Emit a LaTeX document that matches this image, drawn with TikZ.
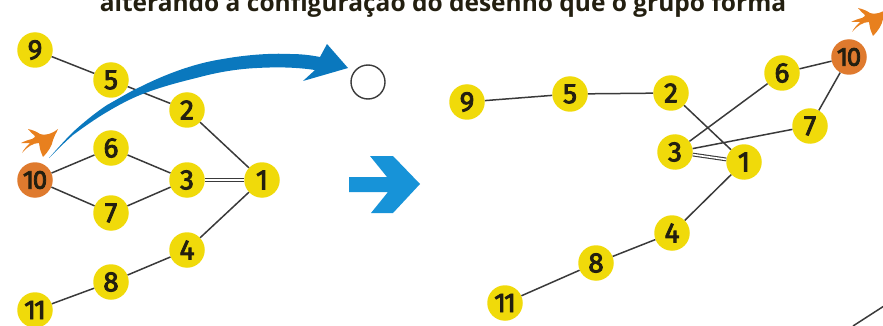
\documentclass[tikz,border=0pt]{standalone}
\usepackage{fontspec}
\setmainfont{Fira Sans}
\newfontfamily\titlefont{Open Sans}
\newfontfamily\numfont[FakeBold=3]{Fira Sans}
\newfontfamily\numtight[FakeBold=3,LetterSpace=-5]{Fira Sans}
\definecolor{ballyellow}{HTML}{F0DA0A}
\definecolor{ballorange}{HTML}{DF7A2E}
\definecolor{birdorange}{HTML}{E8801E}
\definecolor{arrowdark}{HTML}{0A78BE}
\definecolor{arrowlight}{HTML}{1793D8}
\definecolor{numink}{HTML}{231F10}
\definecolor{edgeink}{HTML}{3A3A3A}
\tikzset{
  ball/.style={circle,fill=ballyellow,minimum size=35.5pt,inner sep=0pt,text=numink,font=\numfont\fontsize{28}{28}\selectfont},
  balltight/.style={ball,font=\numtight\fontsize{27}{27}\selectfont},
  ballhot/.style={ball,fill=ballorange,font=\numtight\fontsize{26}{26}\selectfont},
  openball/.style={circle,draw=edgeink,line width=1.4pt,fill=white,minimum size=34pt,inner sep=0pt},
  edge/.style={draw=edgeink,line width=1.5pt},
  twin/.style={draw=edgeink,line width=1.1pt,double=white,double distance=1.6pt},
  titletext/.style={font=\titlefont\bfseries\fontsize{24.5}{26}\selectfont,text=numink,inner sep=0pt,anchor=base},
  bird/.pic={
    \fill[birdorange] (28,129) .. controls (33,130) and (37,132) .. (40,134)
      .. controls (44,136) and (52,134) .. (58,129)
      .. controls (56,134) and (54,136) .. (53,140)
      .. controls (52,146) and (48,152) .. (43,157)
      .. controls (41,153) and (40,150) .. (39,143)
      .. controls (33,143) and (27,147) .. (22,153)
      .. controls (24,149) and (27,146) .. (30,143)
      .. controls (27,143) and (24,143) .. (21,143)
      .. controls (25,141) and (28,140) .. (32,139)
      .. controls (34,138) and (35,137) .. (35,136)
      .. controls (33,134) and (30,132) .. (28,129) -- cycle;
  }
}
\begin{document}
\begin{tikzpicture}[x=1pt,y=-1pt]
\useasboundingbox (0,0) rectangle (883,326);
\clip (0,0) rectangle (883,326);
\node[titletext] (title) at (443,12) {alterando a configuração do desenho que o grupo forma};
\node[ball] (a9) at (35,50) {9};
\node[ball] (a5) at (111,80) {5};
\node[ball] (a2) at (187,110) {2};
\node[ball] (a6) at (111,148) {6};
\node[ball] (a3) at (187,180) {3};
\node[ball] (a1) at (262,180) {1};
\node[ballhot] (a10) at (35,180) {10};
\node[ball] (a7) at (111,213) {7};
\node[ball] (a4) at (187,250) {4};
\node[ball] (a8) at (111,282) {8};
\node[balltight] (a11) at (35,310) {11};
\node[openball] (hole) at (368,82) {};
\node[ball] (b9) at (467,102) {9};
\node[ball] (b5) at (570,94) {5};
\node[ball] (b2) at (671,93) {2};
\node[ball] (b6) at (782,73) {6};
\node[ballhot] (b10) at (849,57) {10};
\node[ball] (b7) at (810,126) {7};
\node[ball] (b3) at (675,152) {3};
\node[ball] (b1) at (744,162) {1};
\node[ball] (b4) at (672,233) {4};
\node[ball] (b8) at (596,263) {8};
\node[balltight] (b11) at (505,303) {11};
\foreach \p/\q in {a9/a5,a5/a2,a2/a1,a10/a6,a6/a3,a10/a7,a7/a3,a1/a4,a4/a8,a8/a11,
                   b9/b5,b5/b2,b2/b1,b3/b6,b6/b10,b10/b7,b7/b3,b1/b4,b4/b8,b8/b11}
  \draw[edge] (\p) -- (\q);
\draw[twin] (a3) -- (a1);
\draw[twin] (b3) -- (b1);
\coordinate (cutA) at (853,326);
\coordinate (cutB) at (884,306);
\draw[edge] (cutA) -- (cutB);
\pic at (0,0) {bird};
\pic at (830,-121) {bird};
\fill[arrowdark] (49,158) .. controls (57,149) and (65,140) .. (73,132)
  .. controls (84,122) and (95,113) .. (107,105)
  .. controls (118,99) and (129,92) .. (140,87)
  .. controls (160,77) and (190,64) .. (223,59)
  .. controls (245,55) and (270,53) .. (290,54)
  .. controls (300,54) and (310,55) .. (320,57)
  -- (327,44) -- (348,68) -- (303,81) -- (315,70)
  .. controls (295,67) and (275,67) .. (257,68)
  .. controls (235,69) and (215,73) .. (200,77)
  .. controls (180,82) and (160,87) .. (140,95)
  .. controls (128,100) and (117,106) .. (107,112)
  .. controls (95,119) and (84,127) .. (73,135)
  .. controls (65,142) and (57,150) .. (49,158) -- cycle;
\fill[arrowlight] (349,177) -- (387,177) -- (370,156) -- (393,156) -- (420,184)
  -- (393,213) -- (371,213) -- (388,192) -- (349,192) -- cycle;
\end{tikzpicture}
\end{document}
